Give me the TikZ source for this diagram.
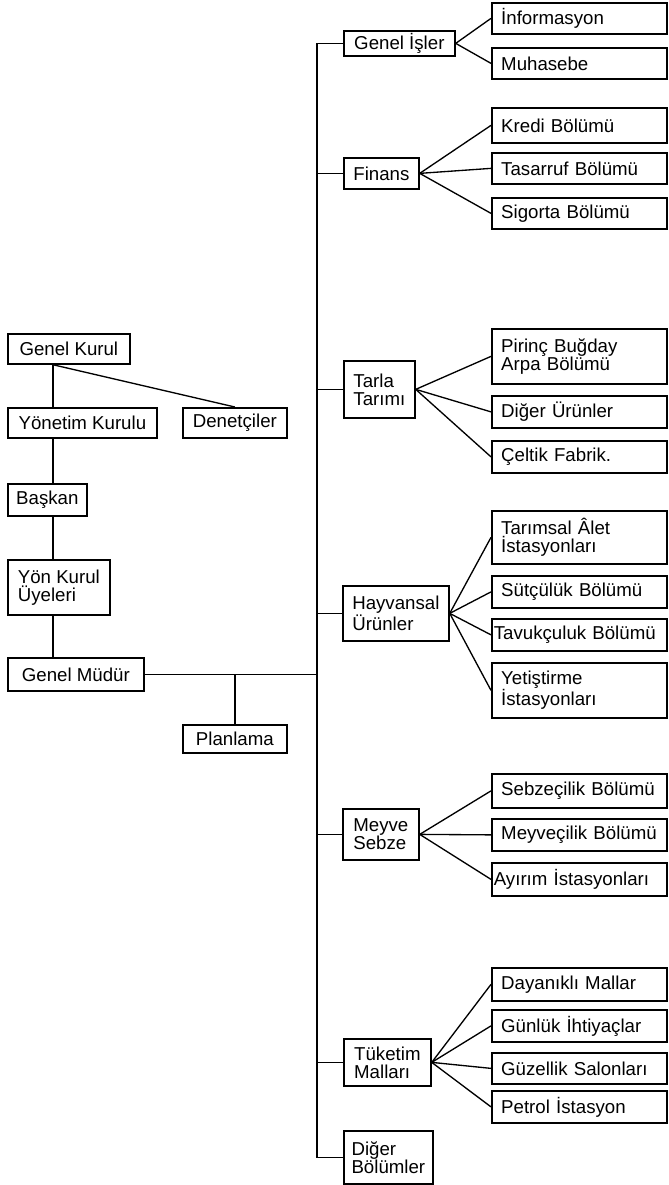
\documentclass[tikz,border=0pt]{standalone}
\usepackage{fontspec}
\setmainfont{Liberation Sans}
\usepackage{tikz}
\newcommand{\boxfont}{\fontsize{14}{13.5}\selectfont}

\begin{document}
\begin{tikzpicture}[x=0.75pt, y=-0.75pt,
    box/.style={draw, line width=1.3pt, font=\boxfont, align=left, anchor=north west, inner xsep=5pt, inner ysep=0pt},
    sub/.style={box, minimum width=131.25pt, text width=117.25pt, inner xsep=7pt},
    wide/.style={inner xsep=1.5pt, text width=128.25pt},
    link/.style={line width=1pt},
    trunk/.style={line width=1.3pt}]
    \useasboundingbox (0,0) rectangle (668,1185);

    % left column
    \node[box, minimum width=91.5pt, minimum height=22.5pt] (gk) at (7,333) {Genel Kurul};
    \node[box, minimum width=111.75pt, minimum height=22.5pt] (yk) at (7,407) {Yönetim Kurulu};
    \node[box, minimum width=78pt, minimum height=22.5pt] (den) at (182,407) {Denetçiler};
    \node[box, minimum width=59.25pt, minimum height=24pt] (bas) at (7,483) {Başkan};
    \node[box, minimum width=76.5pt, minimum height=41.25pt] (uye) at (7,559) {Yön Kurul\\Üyeleri};
    \node[box, minimum width=102pt, minimum height=24.75pt] (gm) at (7,657) {Genel Müdür};
    \node[box, minimum width=78pt, minimum height=21pt] (plan) at (182,724) {Planlama};

    % departments
    \node[box, minimum width=83.25pt, minimum height=18.75pt] (gi) at (343,30) {Genel İşler};
    \node[box, minimum width=56.25pt, minimum height=23.25pt] (fin) at (343,157) {Finans};
    \node[box, minimum width=53.25pt, minimum height=42.75pt] (tt) at (343,360) {Tarla\\Tarımı};
    \node[box, minimum width=79.5pt, minimum height=41.25pt] (hu) at (342,585) {Hayvansal\\Ürünler};
    \node[box, minimum width=57pt, minimum height=38.25pt] (ms) at (342,808) {Meyve\\Sebze};
    \node[box, minimum width=65.25pt, minimum height=35.25pt] (tm) at (343,1038) {Tüketim\\Malları};
    \node[box, minimum width=66.75pt, minimum height=39.75pt] (db) at (343,1130) {Diğer\\Bölümler};

    % sections
    \node[sub, minimum height=23.25pt] (inf) at (491,2) {İnformasyon};
    \node[sub, minimum height=23.25pt] (muh) at (491,47) {Muhasebe};
    \node[sub, minimum height=26.25pt] (kre) at (491,107) {Kredi Bölümü};
    \node[sub, minimum height=23.25pt] (tas) at (491,152) {Tasarruf Bölümü};
    \node[sub, minimum height=23.25pt] (sig) at (491,197) {Sigorta Bölümü};
    \node[sub, minimum height=41.25pt] (pba) at (491,328) {Pirinç Buğday\\Arpa Bölümü};
    \node[sub, minimum height=24pt] (du) at (491,395) {Diğer Ürünler};
    \node[sub, minimum height=24pt] (cf) at (491,440) {Çeltik Fabrik.};
    \node[sub, minimum height=39.75pt] (tai) at (491,510) {Tarımsal Âlet\\İstasyonları};
    \node[sub, minimum height=24pt] (sut) at (491,575) {Sütçülük Bölümü};
    \node[sub, wide, minimum height=24pt] (tav) at (491,618) {Tavukçuluk Bölümü};
    \node[sub, minimum height=41.25pt] (yet) at (491,662) {Yetiştirme\\İstasyonları};
    \node[sub, minimum height=25.5pt] (sbz) at (491,773) {Sebzeçilik Bölümü};
    \node[sub, minimum height=24pt] (mvc) at (491,818) {Meyveçilik Bölümü};
    \node[sub, wide, minimum height=24.75pt] (ayr) at (491,862) {Ayırım İstasyonları};
    \node[sub, minimum height=24.75pt] (day) at (491,967) {Dayanıklı Mallar};
    \node[sub, minimum height=24pt] (gun) at (491,1009) {Günlük İhtiyaçlar};
    \node[sub, minimum height=23.25pt] (guz) at (491,1052) {Güzellik Salonları};
    \node[sub, minimum height=24pt] (pet) at (491,1090) {Petrol İstasyon};

    \coordinate (lx) at (53,0);
    \coordinate (tx) at (317,0);

    \draw[trunk] (gk.south -| lx) -- (yk.north -| lx);
    \draw[link] (gk.south -| lx) -- (den.north);
    \draw[trunk] (yk.south -| lx) -- (bas.north -| lx);
    \draw[trunk] (bas.south -| lx) -- (uye.north -| lx);
    \draw[trunk] (uye.south -| lx) -- (gm.north -| lx);
    \draw[link] (gm.east) -- (gm.east -| tx);
    \draw[trunk] (plan.north) -- (plan.north |- gm.east);

    \draw[trunk] (gi.west) -| (tx |- db.west) -- (db.west);
    \draw[link] (fin.west) -- (fin.west -| tx);
    \draw[link] (tt.west) -- (tt.west -| tx);
    \draw[link] (hu.west) -- (hu.west -| tx);
    \draw[link] (ms.west) -- (ms.west -| tx);
    \draw[link] (tm.west) -- (tm.west -| tx);

    \draw[link] (gi.east) -- (inf.west);
    \draw[link] (gi.east) -- (muh.west);
    \draw[link] (fin.east) -- (kre.west);
    \draw[link] (fin.east) -- (tas.west);
    \draw[link] (fin.east) -- (sig.west);
    \draw[link] (tt.east) -- (pba.west);
    \draw[link] (tt.east) -- (du.west);
    \draw[link] (tt.east) -- (cf.west);
    \draw[link] (hu.east) -- (tai.west);
    \draw[link] (hu.east) -- (sut.west);
    \draw[link] (hu.east) -- (tav.west);
    \draw[link] (hu.east) -- (yet.west);
    \draw[link] (ms.east) -- (sbz.west);
    \draw[link] (ms.east) -- (mvc.west);
    \draw[link] (ms.east) -- (ayr.west);
    \draw[link] (tm.east) -- (day.west);
    \draw[link] (tm.east) -- (gun.west);
    \draw[link] (tm.east) -- (guz.west);
    \draw[link] (tm.east) -- (pet.west);
\end{tikzpicture}
\end{document}
